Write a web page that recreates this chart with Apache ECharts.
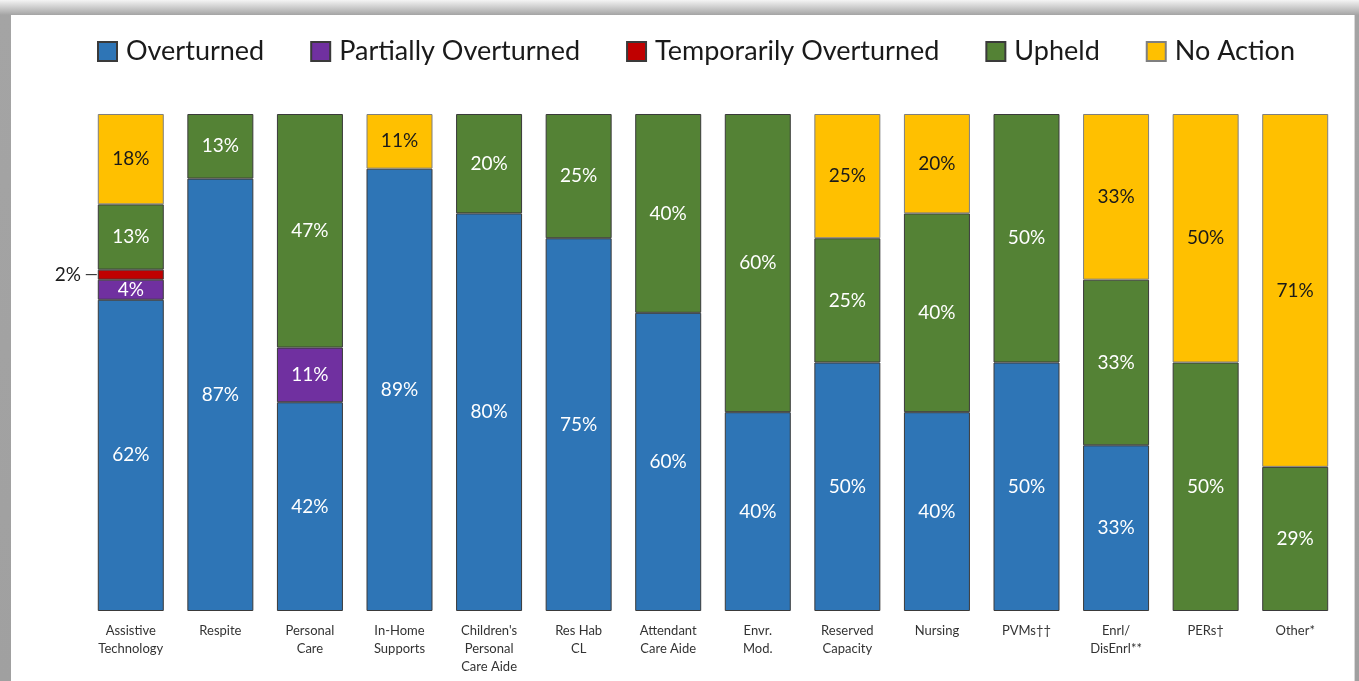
<!DOCTYPE html>
<html>
<head>
<meta charset="utf-8">
<script src="https://cdn.jsdelivr.net/npm/echarts@6/dist/echarts.min.js"></script>
<style>
  html, body { margin: 0; padding: 0; width: 1359px; height: 681px; overflow: hidden; }
  body { background: linear-gradient(to bottom, #f4f4f4 0px, #a4a4a4 15px, #a0a0a0 100%); position: relative; }
  #sheet { position: absolute; left: 11px; top: 15px; width: 1343px; height: 700px; background: #fff; box-shadow: 1px 0 0 #d8d8d8; }
  #chart { position: absolute; left: 0; top: 0; width: 1359px; height: 681px; }
</style>
</head>
<body>
<div id="sheet"></div>
<div id="chart"></div>
<script>
// Appeal outcomes by service type (percent of appeals)
const categories = [
  'Assistive\nTechnology', 'Respite', 'Personal\nCare', 'In-Home\nSupports',
  "Children's\nPersonal\nCare Aide", 'Res Hab\nCL', 'Attendant\nCare Aide', 'Envr.\nMod.',
  'Reserved\nCapacity', 'Nursing', 'PVMs\u2020\u2020', 'Enrl/\nDisEnrl**', 'PERs\u2020', 'Other*'
];
const overturned          = [62, 87, 42, 89, 80, 75, 60, 40, 50, 40, 50, 33, 0, 0];
const partiallyOverturned = [4, 0, 11, 0, 0, 0, 0, 0, 0, 0, 0, 0, 0, 0];
const temporarilyOverturned = [2, 0, 0, 0, 0, 0, 0, 0, 0, 0, 0, 0, 0, 0];
const upheld              = [13, 13, 47, 0, 20, 25, 40, 60, 25, 40, 50, 33, 50, 29];
const noAction            = [18, 0, 0, 11, 0, 0, 0, 0, 25, 20, 0, 33, 50, 71];

const seriesDefs = [
  { name: 'Overturned', values: overturned, color: '#2E75B6', text: '#ffffff' },
  { name: 'Partially Overturned', values: partiallyOverturned, color: '#7030A0', text: '#ffffff' },
  { name: 'Temporarily Overturned', values: temporarilyOverturned, color: '#C00000', text: '#ffffff' },
  { name: 'Upheld', values: upheld, color: '#548235', text: '#ffffff' },
  { name: 'No Action', values: noAction, color: '#FFC000', text: '#1a1a1a' }
];

// Each column is drawn as a share of its own total (100% stacked)
const totals = categories.map((_, i) => seriesDefs.reduce((s, d) => s + d.values[i], 0));

const FONT = 'Lato';

const series = seriesDefs.map(def => ({
  name: def.name,
  type: 'bar',
  stack: 'all',
  barWidth: 66,
  itemStyle: { color: def.color, borderColor: def.name === 'No Action' ? '#7f7f7f' : '#3a3a3a', borderWidth: 1 },
  data: def.values.map((v, i) => {
    if (!v) return '-';
    const item = { value: v / totals[i] * 100, raw: v };
    if (def.name === 'Temporarily Overturned') {
      item.label = {
        show: true, position: 'left', distance: 1,
        formatter: () => '{t|' + v + '%} {l|}',
        rich: {
          t: { fontFamily: FONT, fontSize: 19, color: '#1a1a1a' },
          l: { width: 11, height: 1, backgroundColor: '#1a1a1a' }
        }
      };
    }
    return item;
  }),
  label: {
    show: def.name !== 'Temporarily Overturned',
    position: 'inside',
    fontFamily: FONT,
    fontSize: 19,
    color: def.text,
    formatter: p => p.data.raw + '%'
  },
  emphasis: { disabled: true }
}));

const chart = echarts.init(document.getElementById('chart'));
chart.setOption({
  animation: false,
  legend: {
    top: 33,
    left: 92,
    itemWidth: 19,
    itemHeight: 19,
    itemGap: 46,
    textStyle: { fontFamily: FONT, fontSize: 27, color: '#1a1a1a', padding: [0, 0, 0, 4] },
    data: seriesDefs.map(d => ({ name: d.name, icon: 'rect' }))
  },
  grid: { left: 86, right: 19, top: 114, bottom: 70, containLabel: false },
  xAxis: {
    type: 'category',
    data: categories,
    axisLine: { show: false },
    axisTick: { show: false },
    axisLabel: { fontFamily: FONT, fontSize: 13, color: '#333', lineHeight: 18, margin: 11, interval: 0 }
  },
  yAxis: {
    type: 'value', min: 0, max: 100,
    show: false,
    splitLine: { show: false }
  },
  series
});
</script>
</body>
</html>
